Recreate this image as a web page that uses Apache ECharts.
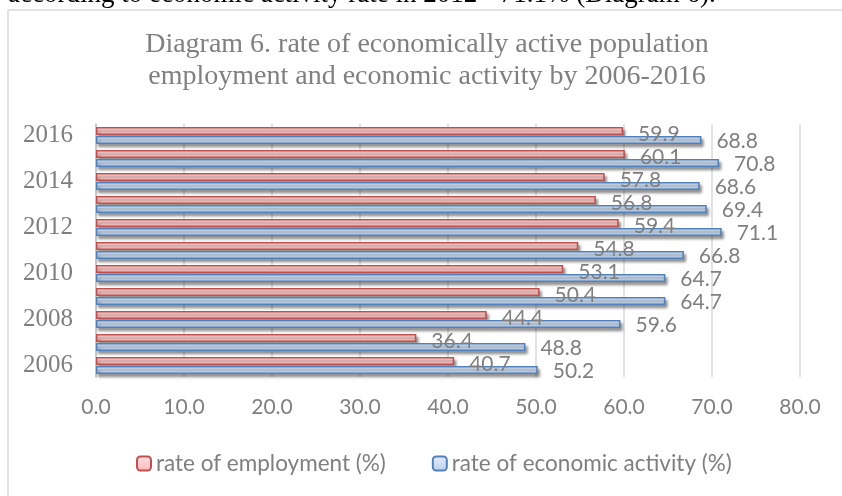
<!DOCTYPE html>
<html>
<head>
<meta charset="utf-8">
<script src="https://cdn.jsdelivr.net/npm/echarts@6/dist/echarts.min.js"></script>
<style>
html,body{margin:0;padding:0;background:#fff;}
#chart{width:842px;height:496px;}
</style>
</head>
<body>
<div id="chart"></div>
<script>
var years = ['2006','2007','2008','2009','2010','2011','2012','2013','2014','2015','2016'];
var employment = [40.7, 36.4, 44.4, 50.4, 53.1, 54.8, 59.4, 56.8, 57.8, 60.1, 59.9];
var activity = [50.2, 48.8, 59.6, 64.7, 64.7, 66.8, 71.1, 69.4, 68.6, 70.8, 68.8];
var seriesNames = ['rate of employment (%)', 'rate of economic activity (%)'];
var titleLines = ['Diagram 6. rate of economically active population', 'employment and economic activity by 2006-2016'];
var topText = 'according to economic activity rate in 2012 - 71.1% (Diagram 6).';

var chart = echarts.init(document.getElementById('chart'), null, {renderer: 'canvas'});

function grad(c1, c2) {
  return new echarts.graphic.LinearGradient(0, 0, 0, 1, [
    {offset: 0, color: c1}, {offset: 1, color: c2}
  ]);
}
var labelFont = 'Lato';
var option = {
  animation: false,
  backgroundColor: '#ffffff',
  graphic: [
    {type: 'rect', shape: {x: 8, y: 10, width: 1000, height: 700},
     style: {fill: 'none', stroke: '#d9d9d9', lineWidth: 1.5}, z: 0},
    {type: 'text', x: 8, y: 8,
     style: {text: topText, fill: '#000000', font: '27px "Liberation Serif"', textVerticalAlign: 'bottom'}},
    {type: 'text', x: 427, y: 29,
     style: {text: titleLines.join('\n'), fill: '#808080', font: '28px "Liberation Serif"',
             textAlign: 'center', textVerticalAlign: 'top', lineHeight: 32}}
  ],
  legend: {
    data: seriesNames,
    bottom: 16,
    left: 131,
    itemWidth: 14,
    itemHeight: 14,
    itemGap: 46,
    textStyle: {fontFamily: labelFont, fontSize: 22.5, color: '#7f7f7f'}
  },
  grid: {left: 96, right: 42, top: 124, bottom: 119, containLabel: false},
  xAxis: {
    type: 'value',
    min: 0, max: 80, interval: 10,
    axisLine: {show: false},
    axisTick: {show: false},
    splitLine: {show: true, lineStyle: {color: '#d9d9d9', width: 1.5}},
    axisLabel: {
      margin: 20,
      fontFamily: labelFont, fontSize: 21, color: '#7f7f7f',
      formatter: function (v) { return v.toFixed(1); }
    }
  },
  yAxis: {
    type: 'category',
    data: years,
    axisLine: {show: true, lineStyle: {color: '#bfbfbf', width: 1.5}},
    axisTick: {show: false},
    axisLabel: {interval: 1, margin: 23, fontFamily: 'Liberation Serif', fontSize: 25, color: '#7f7f7f'}
  },
  series: [
    {
      name: seriesNames[0],
      type: 'bar',
      data: employment,
      barWidth: 8,
      barGap: '12%',
      itemStyle: {
        color: grad('#ffe1e1', '#ffb9b9'),
        borderColor: '#c0504d', borderWidth: 1.5,
        shadowColor: 'rgba(0,0,0,0.4)', shadowBlur: 3, shadowOffsetX: 2, shadowOffsetY: 3
      },
      label: {
        show: true, position: 'right', distance: 15, offset: [0, 3],
        fontFamily: labelFont, fontSize: 21, color: '#7f7f7f',
        formatter: function (p) { return p.value.toFixed(1); }
      }
    },
    {
      name: seriesNames[1],
      type: 'bar',
      data: activity,
      barWidth: 8,
      barGap: '12%',
      itemStyle: {
        color: grad('#e4edf9', '#b9d0ee'),
        borderColor: '#4f81bd', borderWidth: 1.5,
        shadowColor: 'rgba(0,0,0,0.4)', shadowBlur: 3, shadowOffsetX: 2, shadowOffsetY: 3
      },
      label: {
        show: true, position: 'right', distance: 15, offset: [0, 1],
        fontFamily: labelFont, fontSize: 21, color: '#7f7f7f',
        formatter: function (p) { return p.value.toFixed(1); }
      }
    }
  ]
};
chart.setOption(option);
</script>
</body>
</html>
